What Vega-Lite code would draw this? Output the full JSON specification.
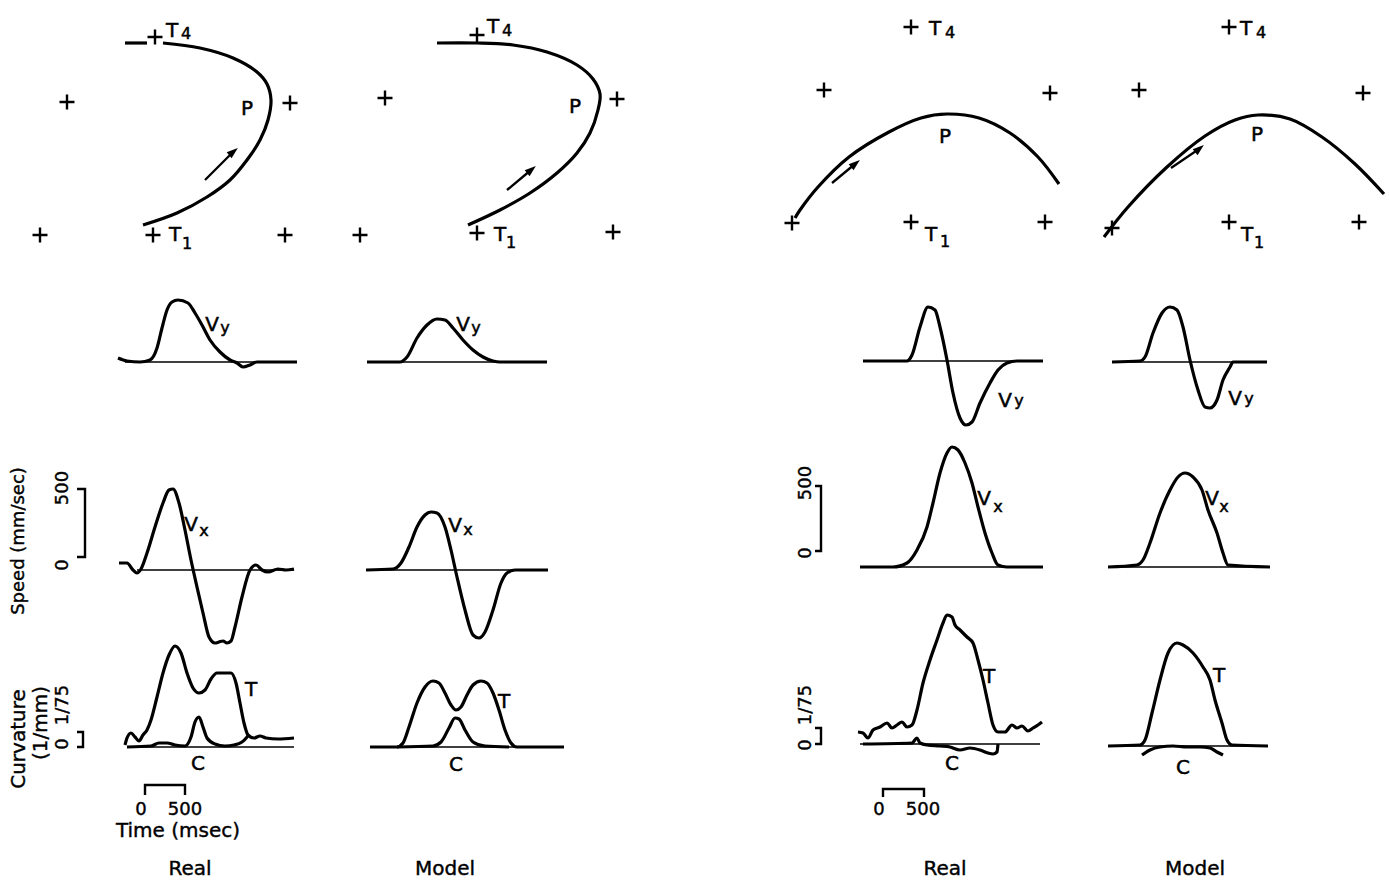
{
  "$schema": "https://vega.github.io/schema/vega-lite/v6.json",
  "width": 1389,
  "height": 886,
  "padding": 0,
  "autosize": {"type": "fit", "contains": "padding"},
  "background": "white",
  "config": {"view": {"stroke": null}},
  "datasets": {
    "curves": [
      {"s":"path1","x":163,"y":43},{"s":"path1","x":200,"y":48},{"s":"path1","x":233,"y":58},{"s":"path1","x":257,"y":72},{"s":"path1","x":267,"y":84},{"s":"path1","x":271,"y":100},{"s":"path1","x":268,"y":120},{"s":"path1","x":260,"y":140},{"s":"path1","x":247,"y":160},{"s":"path1","x":230,"y":180},{"s":"path1","x":207,"y":197},{"s":"path1","x":177,"y":213},{"s":"path1","x":143,"y":225},
      {"s":"path1tail","x":125,"y":43},{"s":"path1tail","x":147,"y":43},
      {"s":"path2","x":437,"y":43},{"s":"path2","x":477,"y":43},{"s":"path2","x":513,"y":45},{"s":"path2","x":547,"y":52},{"s":"path2","x":577,"y":65},{"s":"path2","x":593,"y":79},{"s":"path2","x":600,"y":94},{"s":"path2","x":598,"y":110},{"s":"path2","x":590,"y":133},{"s":"path2","x":577,"y":153},{"s":"path2","x":557,"y":173},{"s":"path2","x":530,"y":193},{"s":"path2","x":500,"y":210},{"s":"path2","x":468,"y":225},
      {"s":"path3","x":795,"y":218},{"s":"path3","x":800,"y":210},{"s":"path3","x":818,"y":187},{"s":"path3","x":849,"y":157},{"s":"path3","x":889,"y":132},{"s":"path3","x":921,"y":118},{"s":"path3","x":947,"y":114},{"s":"path3","x":979,"y":118},{"s":"path3","x":1010,"y":133},{"s":"path3","x":1038,"y":157},{"s":"path3","x":1059,"y":184},
      {"s":"path4","x":1104,"y":237},{"s":"path4","x":1128,"y":207},{"s":"path4","x":1167,"y":167},{"s":"path4","x":1205,"y":136},{"s":"path4","x":1235,"y":120},{"s":"path4","x":1258,"y":115},{"s":"path4","x":1290,"y":119},{"s":"path4","x":1322,"y":137},{"s":"path4","x":1355,"y":164},{"s":"path4","x":1384,"y":194},
      {"s":"vy1","x":118,"y":358},{"s":"vy1","x":127,"y":361},{"s":"vy1","x":140,"y":362},{"s":"vy1","x":150,"y":360},{"s":"vy1","x":157,"y":348},{"s":"vy1","x":162,"y":328},{"s":"vy1","x":167,"y":310},{"s":"vy1","x":172,"y":302},{"s":"vy1","x":178,"y":300},{"s":"vy1","x":188,"y":303},{"s":"vy1","x":195,"y":313},{"s":"vy1","x":202,"y":325},{"s":"vy1","x":210,"y":340},{"s":"vy1","x":220,"y":352},{"s":"vy1","x":230,"y":360},{"s":"vy1","x":237,"y":363},{"s":"vy1","x":243,"y":367},{"s":"vy1","x":250,"y":365},{"s":"vy1","x":257,"y":362},{"s":"vy1","x":297,"y":362},
      {"s":"vy2","x":367,"y":362},{"s":"vy2","x":400,"y":362},{"s":"vy2","x":407,"y":357},{"s":"vy2","x":417,"y":338},{"s":"vy2","x":427,"y":325},{"s":"vy2","x":437,"y":319},{"s":"vy2","x":445,"y":320},{"s":"vy2","x":453,"y":328},{"s":"vy2","x":463,"y":340},{"s":"vy2","x":473,"y":350},{"s":"vy2","x":483,"y":357},{"s":"vy2","x":493,"y":361},{"s":"vy2","x":500,"y":362},{"s":"vy2","x":547,"y":362},
      {"s":"vy3","x":863,"y":361},{"s":"vy3","x":907,"y":361},{"s":"vy3","x":912,"y":355},{"s":"vy3","x":920,"y":327},{"s":"vy3","x":928,"y":307},{"s":"vy3","x":935,"y":310},{"s":"vy3","x":940,"y":327},{"s":"vy3","x":947,"y":360},{"s":"vy3","x":953,"y":393},{"s":"vy3","x":960,"y":418},{"s":"vy3","x":966,"y":425},{"s":"vy3","x":972,"y":422},{"s":"vy3","x":980,"y":403},{"s":"vy3","x":990,"y":383},{"s":"vy3","x":998,"y":370},{"s":"vy3","x":1007,"y":363},{"s":"vy3","x":1017,"y":361},{"s":"vy3","x":1043,"y":361},
      {"s":"vy4","x":1112,"y":362},{"s":"vy4","x":1140,"y":361},{"s":"vy4","x":1145,"y":357},{"s":"vy4","x":1153,"y":333},{"s":"vy4","x":1162,"y":313},{"s":"vy4","x":1170,"y":307},{"s":"vy4","x":1177,"y":310},{"s":"vy4","x":1183,"y":327},{"s":"vy4","x":1190,"y":360},{"s":"vy4","x":1198,"y":390},{"s":"vy4","x":1205,"y":407},{"s":"vy4","x":1210,"y":408},{"s":"vy4","x":1217,"y":400},{"s":"vy4","x":1223,"y":380},{"s":"vy4","x":1230,"y":367},{"s":"vy4","x":1233,"y":362},{"s":"vy4","x":1267,"y":362},
      {"s":"vx1","x":119,"y":563},{"s":"vx1","x":127,"y":563},{"s":"vx1","x":133,"y":570},{"s":"vx1","x":137,"y":573},{"s":"vx1","x":141,"y":569},{"s":"vx1","x":147,"y":553},{"s":"vx1","x":155,"y":527},{"s":"vx1","x":163,"y":503},{"s":"vx1","x":169,"y":490},{"s":"vx1","x":173,"y":489},{"s":"vx1","x":179,"y":503},{"s":"vx1","x":185,"y":530},{"s":"vx1","x":191,"y":560},{"s":"vx1","x":197,"y":587},{"s":"vx1","x":203,"y":613},{"s":"vx1","x":209,"y":637},{"s":"vx1","x":215,"y":643},{"s":"vx1","x":219,"y":642},{"s":"vx1","x":223,"y":641},{"s":"vx1","x":227,"y":643},{"s":"vx1","x":231,"y":641},{"s":"vx1","x":235,"y":627},{"s":"vx1","x":242,"y":597},{"s":"vx1","x":250,"y":570},{"s":"vx1","x":256,"y":565},{"s":"vx1","x":262,"y":570},{"s":"vx1","x":268,"y":572},{"s":"vx1","x":278,"y":569},{"s":"vx1","x":286,"y":570},{"s":"vx1","x":294,"y":569},
      {"s":"vx2","x":366,"y":570},{"s":"vx2","x":393,"y":569},{"s":"vx2","x":401,"y":563},{"s":"vx2","x":409,"y":547},{"s":"vx2","x":417,"y":527},{"s":"vx2","x":425,"y":515},{"s":"vx2","x":431,"y":512},{"s":"vx2","x":437,"y":513},{"s":"vx2","x":445,"y":527},{"s":"vx2","x":451,"y":550},{"s":"vx2","x":457,"y":577},{"s":"vx2","x":465,"y":610},{"s":"vx2","x":473,"y":635},{"s":"vx2","x":479,"y":638},{"s":"vx2","x":485,"y":632},{"s":"vx2","x":493,"y":610},{"s":"vx2","x":501,"y":583},{"s":"vx2","x":507,"y":573},{"s":"vx2","x":515,"y":570},{"s":"vx2","x":548,"y":570},
      {"s":"vx3","x":860,"y":567},{"s":"vx3","x":893,"y":567},{"s":"vx3","x":907,"y":563},{"s":"vx3","x":917,"y":550},{"s":"vx3","x":927,"y":527},{"s":"vx3","x":933,"y":503},{"s":"vx3","x":940,"y":473},{"s":"vx3","x":947,"y":453},{"s":"vx3","x":952,"y":447},{"s":"vx3","x":958,"y":450},{"s":"vx3","x":965,"y":463},{"s":"vx3","x":972,"y":483},{"s":"vx3","x":978,"y":507},{"s":"vx3","x":985,"y":533},{"s":"vx3","x":992,"y":553},{"s":"vx3","x":998,"y":565},{"s":"vx3","x":1007,"y":567},{"s":"vx3","x":1043,"y":567},
      {"s":"vx4","x":1108,"y":567},{"s":"vx4","x":1137,"y":565},{"s":"vx4","x":1143,"y":560},{"s":"vx4","x":1150,"y":543},{"s":"vx4","x":1160,"y":513},{"s":"vx4","x":1170,"y":490},{"s":"vx4","x":1178,"y":477},{"s":"vx4","x":1185,"y":473},{"s":"vx4","x":1193,"y":477},{"s":"vx4","x":1202,"y":490},{"s":"vx4","x":1208,"y":510},{"s":"vx4","x":1217,"y":533},{"s":"vx4","x":1223,"y":553},{"s":"vx4","x":1228,"y":565},{"s":"vx4","x":1270,"y":567},
      {"s":"t1","x":125,"y":745},{"s":"t1","x":127,"y":738},{"s":"t1","x":131,"y":733},{"s":"t1","x":135,"y":737},{"s":"t1","x":139,"y":741},{"s":"t1","x":143,"y":735},{"s":"t1","x":147,"y":730},{"s":"t1","x":151,"y":720},{"s":"t1","x":157,"y":697},{"s":"t1","x":163,"y":673},{"s":"t1","x":169,"y":655},{"s":"t1","x":175,"y":646},{"s":"t1","x":181,"y":653},{"s":"t1","x":187,"y":673},{"s":"t1","x":193,"y":688},{"s":"t1","x":199,"y":693},{"s":"t1","x":205,"y":690},{"s":"t1","x":211,"y":679},{"s":"t1","x":217,"y":673},{"s":"t1","x":223,"y":673},{"s":"t1","x":231,"y":673},{"s":"t1","x":236,"y":683},{"s":"t1","x":240,"y":703},{"s":"t1","x":244,"y":723},{"s":"t1","x":248,"y":735},{"s":"t1","x":254,"y":738},{"s":"t1","x":260,"y":736},{"s":"t1","x":266,"y":738},{"s":"t1","x":278,"y":739},{"s":"t1","x":294,"y":738},
      {"s":"c1","x":127,"y":747},{"s":"c1","x":151,"y":746},{"s":"c1","x":159,"y":743},{"s":"c1","x":167,"y":743},{"s":"c1","x":175,"y":745},{"s":"c1","x":185,"y":746},{"s":"c1","x":191,"y":737},{"s":"c1","x":195,"y":722},{"s":"c1","x":199,"y":717},{"s":"c1","x":203,"y":727},{"s":"c1","x":207,"y":738},{"s":"c1","x":215,"y":744},{"s":"c1","x":225,"y":746},{"s":"c1","x":234,"y":745},{"s":"c1","x":242,"y":742},{"s":"c1","x":248,"y":736},
      {"s":"t2","x":370,"y":747},{"s":"t2","x":397,"y":747},{"s":"t2","x":403,"y":743},{"s":"t2","x":409,"y":727},{"s":"t2","x":417,"y":703},{"s":"t2","x":425,"y":687},{"s":"t2","x":433,"y":681},{"s":"t2","x":439,"y":683},{"s":"t2","x":445,"y":693},{"s":"t2","x":451,"y":705},{"s":"t2","x":456,"y":710},{"s":"t2","x":461,"y":707},{"s":"t2","x":467,"y":695},{"s":"t2","x":473,"y":685},{"s":"t2","x":481,"y":681},{"s":"t2","x":487,"y":683},{"s":"t2","x":493,"y":693},{"s":"t2","x":499,"y":710},{"s":"t2","x":505,"y":730},{"s":"t2","x":511,"y":743},{"s":"t2","x":517,"y":747},{"s":"t2","x":564,"y":747},
      {"s":"c2","x":397,"y":747},{"s":"c2","x":433,"y":746},{"s":"c2","x":441,"y":742},{"s":"c2","x":449,"y":728},{"s":"c2","x":455,"y":718},{"s":"c2","x":459,"y":719},{"s":"c2","x":465,"y":730},{"s":"c2","x":473,"y":742},{"s":"c2","x":485,"y":746},{"s":"c2","x":509,"y":747},
      {"s":"t3","x":858,"y":732},{"s":"t3","x":863,"y":733},{"s":"t3","x":868,"y":738},{"s":"t3","x":873,"y":730},{"s":"t3","x":880,"y":727},{"s":"t3","x":887,"y":723},{"s":"t3","x":892,"y":728},{"s":"t3","x":897,"y":725},{"s":"t3","x":902,"y":722},{"s":"t3","x":907,"y":727},{"s":"t3","x":912,"y":725},{"s":"t3","x":917,"y":710},{"s":"t3","x":923,"y":683},{"s":"t3","x":930,"y":660},{"s":"t3","x":937,"y":640},{"s":"t3","x":943,"y":623},{"s":"t3","x":947,"y":615},{"s":"t3","x":952,"y":617},{"s":"t3","x":955,"y":625},{"s":"t3","x":960,"y":630},{"s":"t3","x":967,"y":637},{"s":"t3","x":973,"y":643},{"s":"t3","x":978,"y":660},{"s":"t3","x":983,"y":680},{"s":"t3","x":988,"y":703},{"s":"t3","x":993,"y":725},{"s":"t3","x":998,"y":732},{"s":"t3","x":1005,"y":732},{"s":"t3","x":1012,"y":725},{"s":"t3","x":1017,"y":728},{"s":"t3","x":1022,"y":726},{"s":"t3","x":1028,"y":731},{"s":"t3","x":1033,"y":728},{"s":"t3","x":1038,"y":725},{"s":"t3","x":1042,"y":722},
      {"s":"c3","x":863,"y":744},{"s":"c3","x":912,"y":743},{"s":"c3","x":917,"y":738},{"s":"c3","x":920,"y":743},{"s":"c3","x":927,"y":745},{"s":"c3","x":940,"y":746},{"s":"c3","x":950,"y":747},{"s":"c3","x":960,"y":750},{"s":"c3","x":970,"y":748},{"s":"c3","x":980,"y":750},{"s":"c3","x":988,"y":753},{"s":"c3","x":993,"y":754},{"s":"c3","x":997,"y":752},{"s":"c3","x":998,"y":744},
      {"s":"t4","x":1108,"y":746},{"s":"t4","x":1140,"y":745},{"s":"t4","x":1145,"y":740},{"s":"t4","x":1152,"y":713},{"s":"t4","x":1160,"y":680},{"s":"t4","x":1168,"y":653},{"s":"t4","x":1177,"y":643},{"s":"t4","x":1183,"y":645},{"s":"t4","x":1193,"y":653},{"s":"t4","x":1203,"y":667},{"s":"t4","x":1210,"y":680},{"s":"t4","x":1215,"y":700},{"s":"t4","x":1222,"y":723},{"s":"t4","x":1227,"y":740},{"s":"t4","x":1232,"y":745},{"s":"t4","x":1268,"y":746},
      {"s":"c4","x":1142,"y":755},{"s":"c4","x":1150,"y":750},{"s":"c4","x":1160,"y":747},{"s":"c4","x":1173,"y":746},{"s":"c4","x":1187,"y":747},{"s":"c4","x":1200,"y":747},{"s":"c4","x":1210,"y":748},{"s":"c4","x":1217,"y":752},{"s":"c4","x":1223,"y":755}
    ],
    "baselines": [
      {"x":125,"x2":297,"y":362},{"x":367,"x2":547,"y":362},{"x":863,"x2":1043,"y":361},{"x":1112,"x2":1267,"y":362},
      {"x":137,"x2":294,"y":570},{"x":366,"x2":548,"y":570},{"x":860,"x2":1043,"y":567},{"x":1108,"x2":1270,"y":567},
      {"x":127,"x2":294,"y":747},{"x":370,"x2":564,"y":747},{"x":860,"x2":1040,"y":744},{"x":1108,"x2":1268,"y":746}
    ],
    "brackets": [
      {"s":"b1","x":77,"y":489},{"s":"b1","x":85,"y":489},{"s":"b1","x":85,"y":557},{"s":"b1","x":77,"y":557},
      {"s":"b2","x":77,"y":732},{"s":"b2","x":83,"y":732},{"s":"b2","x":83,"y":747},{"s":"b2","x":77,"y":747},
      {"s":"b3","x":145,"y":795},{"s":"b3","x":145,"y":785},{"s":"b3","x":185,"y":785},{"s":"b3","x":185,"y":795},
      {"s":"b4","x":815,"y":486},{"s":"b4","x":821,"y":486},{"s":"b4","x":821,"y":551},{"s":"b4","x":815,"y":551},
      {"s":"b5","x":815,"y":728},{"s":"b5","x":821,"y":728},{"s":"b5","x":821,"y":744},{"s":"b5","x":815,"y":744},
      {"s":"b6","x":883,"y":797},{"s":"b6","x":883,"y":789},{"s":"b6","x":924,"y":789},{"s":"b6","x":924,"y":797}
    ],
    "targets": [
      {"x":155,"y":37},{"x":67,"y":102},{"x":290,"y":103},{"x":40,"y":235},{"x":153,"y":235},{"x":285,"y":235},
      {"x":477,"y":35},{"x":385,"y":98},{"x":617,"y":99},{"x":360,"y":235},{"x":477,"y":233},{"x":613,"y":232},
      {"x":911,"y":27},{"x":824,"y":90},{"x":1050,"y":93},{"x":792,"y":223},{"x":911,"y":222},{"x":1045,"y":222},
      {"x":1229,"y":27},{"x":1139,"y":90},{"x":1363,"y":93},{"x":1112,"y":228},{"x":1229,"y":222},{"x":1359,"y":222}
    ],
    "arrows": [
      {"x":205,"y":180,"x2":233,"y2":152},
      {"x":507,"y":190,"x2":531,"y2":170},
      {"x":832,"y":183,"x2":855,"y2":164},
      {"x":1171,"y":168,"x2":1199,"y2":149}
    ],
    "texts": [
      {"t":"T","x":172,"y":37,"role":"letter"},{"t":"4","x":186,"y":39,"role":"sub"},
      {"t":"T","x":175,"y":241,"role":"letter"},{"t":"1","x":187,"y":249,"role":"sub"},
      {"t":"P","x":247,"y":115,"role":"letter"},
      {"t":"T","x":493,"y":33,"role":"letter"},{"t":"4","x":507,"y":36,"role":"sub"},
      {"t":"T","x":500,"y":241,"role":"letter"},{"t":"1","x":511,"y":248,"role":"sub"},
      {"t":"P","x":575,"y":113,"role":"letter"},
      {"t":"T","x":935,"y":35,"role":"letter"},{"t":"4","x":950,"y":38,"role":"sub"},
      {"t":"T","x":931,"y":241,"role":"letter"},{"t":"1","x":945,"y":247,"role":"sub"},
      {"t":"P","x":945,"y":143,"role":"letter"},
      {"t":"T","x":1246,"y":35,"role":"letter"},{"t":"4","x":1261,"y":38,"role":"sub"},
      {"t":"T","x":1247,"y":241,"role":"letter"},{"t":"1","x":1259,"y":248,"role":"sub"},
      {"t":"P","x":1257,"y":141,"role":"letter"},
      {"t":"V","x":212,"y":331,"role":"letter"},{"t":"y","x":225,"y":333,"role":"sub"},
      {"t":"V","x":463,"y":331,"role":"letter"},{"t":"y","x":476,"y":333,"role":"sub"},
      {"t":"V","x":1005,"y":407,"role":"letter"},{"t":"y","x":1019,"y":406,"role":"sub"},
      {"t":"V","x":1235,"y":405,"role":"letter"},{"t":"y","x":1249,"y":404,"role":"sub"},
      {"t":"V","x":191,"y":531,"role":"letter"},{"t":"x","x":204,"y":536,"role":"sub"},
      {"t":"V","x":455,"y":532,"role":"letter"},{"t":"x","x":468,"y":535,"role":"sub"},
      {"t":"V","x":984,"y":505,"role":"letter"},{"t":"x","x":998,"y":512,"role":"sub"},
      {"t":"V","x":1212,"y":505,"role":"letter"},{"t":"x","x":1224,"y":512,"role":"sub"},
      {"t":"T","x":251,"y":696,"role":"letter"},{"t":"C","x":198,"y":770,"role":"letter"},
      {"t":"T","x":504,"y":708,"role":"letter"},{"t":"C","x":456,"y":771,"role":"letter"},
      {"t":"T","x":989,"y":683,"role":"letter"},{"t":"C","x":952,"y":770,"role":"letter"},
      {"t":"T","x":1219,"y":682,"role":"letter"},{"t":"C","x":1183,"y":774,"role":"letter"},
      {"t":"0","x":141,"y":810,"role":"num"},{"t":"500","x":185,"y":810,"role":"num"},
      {"t":"0","x":879,"y":810,"role":"num"},{"t":"500","x":923,"y":810,"role":"num"},
      {"t":"500","x":63,"y":488,"role":"vnum"},{"t":"0","x":63,"y":565,"role":"vnum"},
      {"t":"1/75","x":63,"y":705,"role":"vnum"},{"t":"0","x":63,"y":744,"role":"vnum"},
      {"t":"500","x":806,"y":483,"role":"vnum"},{"t":"0","x":806,"y":553,"role":"vnum"},
      {"t":"1/75","x":806,"y":705,"role":"vnum"},{"t":"0","x":806,"y":745,"role":"vnum"},
      {"t":"Speed (mm/sec)","x":19,"y":541,"role":"vtitle"},
      {"t":"Curvature","x":19,"y":739,"role":"vtitle2"},
      {"t":"(1/mm)","x":41,"y":723,"role":"vtitle2"},
      {"t":"Time (msec)","x":178,"y":831,"role":"panel"},
      {"t":"Real","x":190,"y":869,"role":"panel"},
      {"t":"Model","x":445,"y":869,"role":"panel"},
      {"t":"Real","x":945,"y":869,"role":"panel"},
      {"t":"Model","x":1195,"y":869,"role":"panel"}
    ]
  },
  "encoding": {
    "x": {"field": "x", "type": "quantitative", "scale": {"domain": [0, 1389], "nice": false, "zero": false}, "axis": null},
    "y": {"field": "y", "type": "quantitative", "scale": {"domain": [0, 886], "nice": false, "zero": false, "reverse": true}, "axis": null}
  },
  "layer": [
    {
      "data": {"name": "baselines"},
      "mark": {"type": "rule", "color": "black", "strokeWidth": 1.4},
      "encoding": {"x2": {"field": "x2"}}
    },
    {
      "data": {"name": "brackets"},
      "mark": {"type": "line", "color": "black", "strokeWidth": 2.4, "strokeJoin": "miter"},
      "encoding": {"detail": {"field": "s"}, "order": {"value": null}}
    },
    {
      "data": {"name": "curves"},
      "transform": [{"filter": "indexof(datum.s, 'path') === 0"}],
      "mark": {"type": "line", "color": "black", "strokeWidth": 3.2, "strokeJoin": "round", "interpolate": "catmull-rom"},
      "encoding": {"detail": {"field": "s"}, "order": {"value": null}}
    },
    {
      "data": {"name": "curves"},
      "transform": [{"filter": "indexof(datum.s, 'path') !== 0"}],
      "mark": {"type": "line", "color": "black", "strokeWidth": 3.2, "strokeJoin": "round", "interpolate": "monotone"},
      "encoding": {"detail": {"field": "s"}, "order": {"value": null}}
    },
    {
      "data": {"name": "targets"},
      "mark": {"type": "point", "shape": "M-1,0L1,0M0,-1L0,1", "size": 225, "filled": false, "stroke": "black", "strokeWidth": 2.4, "opacity": 1}
    },
    {
      "data": {"name": "arrows"},
      "mark": {"type": "rule", "color": "black", "strokeWidth": 2.3},
      "encoding": {"x2": {"field": "x2"}, "y2": {"field": "y2"}}
    },
    {
      "data": {"name": "arrows"},
      "mark": {"type": "point", "shape": "M0,-1L0.6,0.8L-0.6,0.8Z", "size": 160, "filled": true, "color": "black", "angle": 50, "opacity": 1},
      "encoding": {
        "x": {"field": "x2", "type": "quantitative"},
        "y": {"field": "y2", "type": "quantitative"}
      }
    },
    {
      "data": {"name": "texts"},
      "transform": [{"filter": "datum.role === 'letter'"}],
      "mark": {"type": "text", "font": "DejaVu Sans", "fontSize": 20, "align": "center", "baseline": "alphabetic", "color": "black", "stroke": "black", "strokeWidth": 0.5},
      "encoding": {"text": {"field": "t"}}
    },
    {
      "data": {"name": "texts"},
      "transform": [{"filter": "datum.role === 'sub'"}],
      "mark": {"type": "text", "font": "DejaVu Sans", "fontSize": 16, "align": "center", "baseline": "alphabetic", "color": "black", "stroke": "black", "strokeWidth": 0.5},
      "encoding": {"text": {"field": "t"}}
    },
    {
      "data": {"name": "texts"},
      "transform": [{"filter": "datum.role === 'num'"}],
      "mark": {"type": "text", "font": "DejaVu Sans", "fontSize": 18, "align": "center", "baseline": "middle", "color": "black", "stroke": "black", "strokeWidth": 0.4},
      "encoding": {"text": {"field": "t"}}
    },
    {
      "data": {"name": "texts"},
      "transform": [{"filter": "datum.role === 'vnum'"}],
      "mark": {"type": "text", "font": "DejaVu Sans", "fontSize": 18, "align": "center", "baseline": "middle", "angle": 270, "color": "black", "stroke": "black", "strokeWidth": 0.4},
      "encoding": {"text": {"field": "t"}}
    },
    {
      "data": {"name": "texts"},
      "transform": [{"filter": "datum.role === 'vtitle'"}],
      "mark": {"type": "text", "font": "DejaVu Sans", "fontSize": 18, "align": "center", "baseline": "middle", "angle": 270, "color": "black", "stroke": "black", "strokeWidth": 0.4},
      "encoding": {"text": {"field": "t"}}
    },
    {
      "data": {"name": "texts"},
      "transform": [{"filter": "datum.role === 'vtitle2'"}],
      "mark": {"type": "text", "font": "DejaVu Sans", "fontSize": 20, "align": "center", "baseline": "middle", "angle": 270, "color": "black", "stroke": "black", "strokeWidth": 0.4},
      "encoding": {"text": {"field": "t"}}
    },
    {
      "data": {"name": "texts"},
      "transform": [{"filter": "datum.role === 'panel'"}],
      "mark": {"type": "text", "font": "DejaVu Sans", "fontSize": 20, "align": "center", "baseline": "middle", "color": "black", "stroke": "black", "strokeWidth": 0.4},
      "encoding": {"text": {"field": "t"}}
    }
  ]
}
